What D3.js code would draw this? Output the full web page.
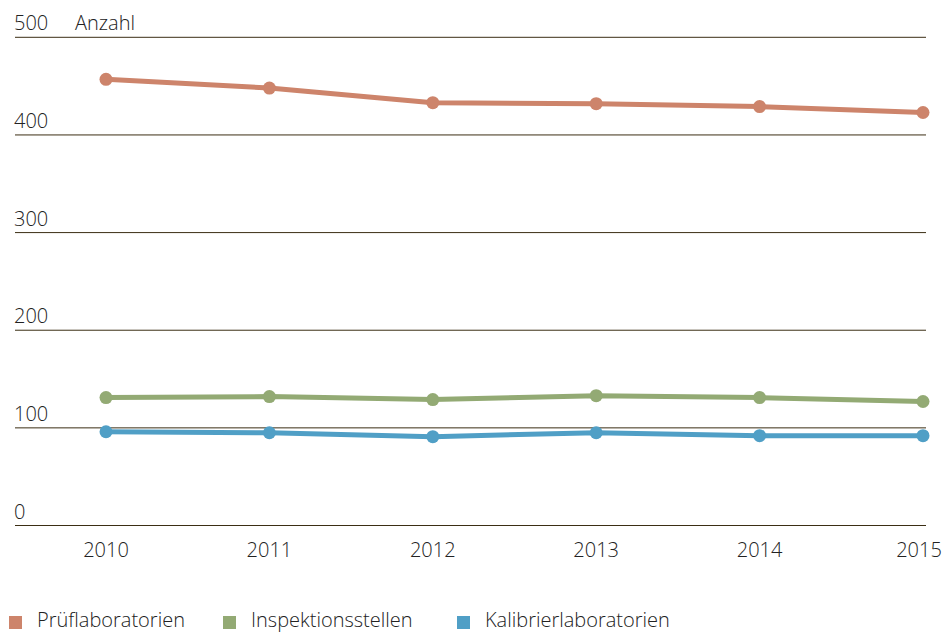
<!DOCTYPE html>
<html>
<head>
<meta charset="utf-8">
<title>Anzahl</title>
<style>
	body { margin: 0; background: #fff; }
	svg { display: block; font-family: "Open Sans", "Noto Sans", sans-serif; font-weight: 300; }
	.tick-label { font-size: 20px; fill: #222; }
</style>
</head>
<body>
<svg id="chart" width="944" height="632"></svg>
<script src="https://d3js.org/d3.v7.min.js"></script>
<script>
// data
var years = [2010, 2011, 2012, 2013, 2014, 2015];
var pruef = [457, 448, 433, 432, 429, 423];
var inspektion = [131, 132, 129, 133, 131, 127];
var kalibrier = [96, 95, 91, 95, 92, 92];
var yTicks = [0, 100, 200, 300, 400, 500];

var series = [
	{ name: "Prüflaboratorien", values: pruef, color: "#cd846b" },
	{ name: "Inspektionsstellen", values: inspektion, color: "#93aa74" },
	{ name: "Kalibrierlaboratorien", values: kalibrier, color: "#509fc6" }
];

var svg = d3.select("#chart");

var x = d3.scalePoint()
	.domain(years)
	.range([106, 923]);

var y = d3.scaleLinear()
	.domain([0, 500])
	.range([525.5, 37.3]);

// gridlines + labels
var grid = svg.append("g");
grid.selectAll("line")
	.data(yTicks)
	.join("line")
		.attr("x1", 15)
		.attr("x2", 926)
		.attr("y1", function(d) { return y(d); })
		.attr("y2", function(d) { return y(d); })
		.attr("stroke", "#3b2e14")
		.attr("stroke-width", 1);

grid.selectAll("text")
	.data(yTicks)
	.join("text")
		.attr("class", "tick-label")
		.attr("x", 14)
		.attr("y", function(d) { return y(d) - 7; })
		.text(function(d) { return d; });

svg.append("text")
	.attr("class", "tick-label")
	.attr("x", 75)
	.attr("y", y(500) - 7)
	.text("Anzahl");

// x labels
svg.append("g")
	.selectAll("text")
	.data(years)
	.join("text")
		.attr("class", "tick-label")
		.attr("x", function(d, i) { return i === years.length - 1 ? x(d) - 4 : x(d); })
		.attr("y", 557)
		.attr("text-anchor", "middle")
		.text(function(d) { return d; });

// lines
var line = d3.line()
	.x(function(d, i) { return x(years[i]); })
	.y(function(d) { return y(d); });

var s = svg.append("g")
	.selectAll("g")
	.data(series)
	.join("g");

s.append("path")
	.attr("d", function(d) { return line(d.values); })
	.attr("fill", "none")
	.attr("stroke", function(d) { return d.color; })
	.attr("stroke-width", 5)
	.attr("stroke-linejoin", "round");

s.selectAll("circle")
	.data(function(d) { return d.values.map(function(v, i) { return { v: v, i: i, color: d.color }; }); })
	.join("circle")
		.attr("cx", function(d) { return x(years[d.i]); })
		.attr("cy", function(d) { return y(d.v); })
		.attr("r", 6.5)
		.attr("fill", function(d) { return d.color; });

// legend
var legendX = [9, 223, 457];
var legend = svg.append("g")
	.selectAll("g")
	.data(series)
	.join("g")
		.attr("transform", function(d, i) { return "translate(" + legendX[i] + ",0)"; });

legend.append("rect")
	.attr("x", 0)
	.attr("y", 616)
	.attr("width", 13)
	.attr("height", 13)
	.attr("fill", function(d) { return d.color; });

legend.append("text")
	.attr("class", "tick-label")
	.attr("x", 28)
	.attr("y", 627)
	.text(function(d) { return d.name; });
</script>
</body>
</html>
